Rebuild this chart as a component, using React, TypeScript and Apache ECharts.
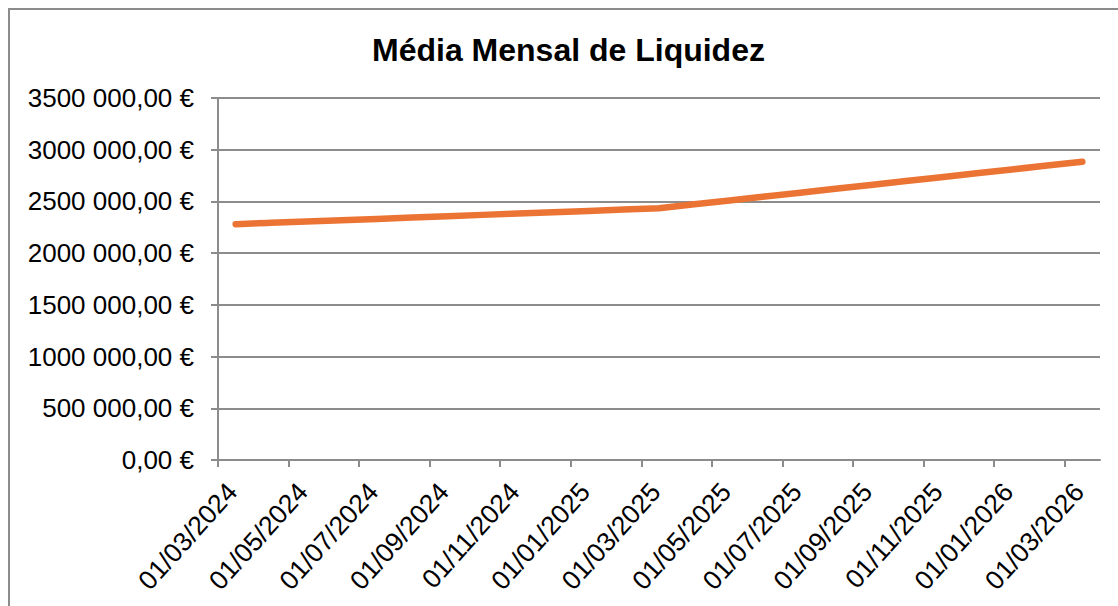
import React, { useEffect, useRef } from "react";
import * as echarts from "echarts";

const TITLE = "Média Mensal de Liquidez";

// One entry per month (Mar 2024 .. Mar 2026)
const months: string[] = [
  "01/03/2024", "01/04/2024", "01/05/2024", "01/06/2024", "01/07/2024",
  "01/08/2024", "01/09/2024", "01/10/2024", "01/11/2024", "01/12/2024",
  "01/01/2025", "01/02/2025", "01/03/2025", "01/04/2025", "01/05/2025",
  "01/06/2025", "01/07/2025", "01/08/2025", "01/09/2025", "01/10/2025",
  "01/11/2025", "01/12/2025", "01/01/2026", "01/02/2026", "01/03/2026",
];

const liquidez: number[] = [
  2280000, 2293000, 2305000, 2318000, 2331000,
  2344000, 2357000, 2370000, 2383000, 2396000,
  2408000, 2421000, 2434000, 2472000, 2509000,
  2547000, 2584000, 2622000, 2659000, 2697000,
  2734000, 2772000, 2809000, 2847000, 2884000,
];

const Y_MIN = 0;
const Y_MAX = 3500000;
const Y_STEP = 500000;
const X_LABEL_STEP = 2; // a label every two months

const GRAY = "#8c8c8c";
const ORANGE = "#EB7434";
const FONT = "'Liberation Sans', Arial, sans-serif";

function fmtEuro(v: number): string {
  const t = Math.floor(v / 1000);
  const r = Math.round(v % 1000);
  if (t > 0) return `${t} ${String(r).padStart(3, "0")},00 €`;
  return `${r},00 €`;
}

export default function App() {
  const ref = useRef<HTMLDivElement>(null);

  useEffect(() => {
    if (!ref.current) return;
    const chart = echarts.init(ref.current, null, { renderer: "svg" });
    const tickVals = months.map((_, i) => i).filter((i) => i % X_LABEL_STEP === 0);
    const labelVals = tickVals.map((i) => i + 0.4);
    chart.setOption({
      animation: false,
      backgroundColor: "#ffffff",
      title: {
        text: TITLE,
        left: 357,
        top: 19,
        textStyle: { fontFamily: FONT, fontSize: 32, fontWeight: "bold", color: "#000" },
      },
      grid: { left: 208, right: 18, top: 88, bottom: 146, containLabel: false },
      xAxis: {
        type: "value",
        min: 0,
        max: months.length,
        splitLine: { show: false },
        axisLine: { show: true, onZero: false, lineStyle: { color: GRAY, width: 2 } },
        axisTick: {
          show: true,
          length: 7,
          customValues: tickVals,
          lineStyle: { color: GRAY, width: 2 },
        },
        axisLabel: {
          customValues: labelVals,
          rotate: 48,
          margin: 27,
          fontFamily: FONT,
          fontSize: 26.5,
          color: "#000",
          formatter: (v: number) => months[Math.floor(v)] ?? "",
        },
      },
      yAxis: {
        type: "value",
        min: Y_MIN,
        max: Y_MAX,
        interval: Y_STEP,
        axisLine: { show: true, lineStyle: { color: GRAY, width: 2 } },
        axisTick: { show: true, length: 7, lineStyle: { color: GRAY, width: 2 } },
        splitLine: { show: true, lineStyle: { color: GRAY, width: 2 } },
        axisLabel: {
          margin: 24,
          fontFamily: FONT,
          fontSize: 26,
          color: "#000",
          formatter: (v: number) => fmtEuro(v),
        },
      },
      series: [
        {
          type: "line",
          data: liquidez.map((v, i) => [i + 0.5, v]),
          showSymbol: false,
          lineStyle: { color: ORANGE, width: 6.5, cap: "round", join: "round" },
          itemStyle: { color: ORANGE },
        },
      ],
    });
    return () => chart.dispose();
  }, []);

  return (
    <div
      style={{
        position: "fixed",
        left: 8,
        top: 8,
        width: 1110,
        height: 598,
        boxSizing: "border-box",
        borderLeft: `2px solid ${GRAY}`,
        borderTop: `2px solid ${GRAY}`,
        background: "#fff",
        overflow: "hidden",
      }}
    >
      <div ref={ref} style={{ width: 1108, height: 596 }} />
    </div>
  );
}
